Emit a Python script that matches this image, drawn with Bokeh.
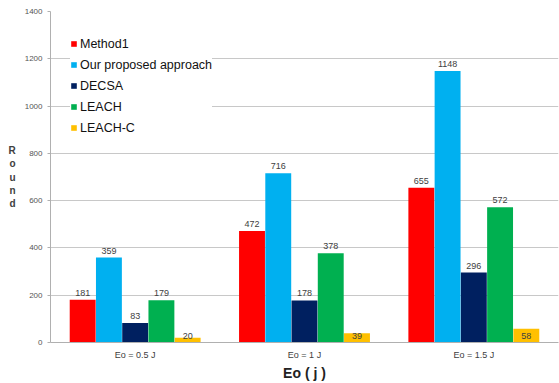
from bokeh.plotting import figure
from bokeh.models import FactorRange, FixedTicker, Legend, LegendItem, ColumnDataSource
from bokeh.transform import dodge
from bokeh.core.properties import value
from bokeh.embed import file_html
from bokeh.resources import INLINE

categories = ["Eo = 0.5 J", "Eo = 1 J", "Eo = 1.5 J"]
series_names = ["Method1", "Our proposed approach", "DECSA", "LEACH", "LEACH-C"]
method1 = [181, 472, 655]
proposed = [359, 716, 1148]
decsa = [83, 178, 296]
leach = [179, 378, 572]
leach_c = [20, 39, 58]
y_ticks = [0, 200, 400, 600, 800, 1000, 1200, 1400]

colors = ["#FF0000", "#00B0F0", "#002060", "#00B050", "#FFC000"]
series = [method1, proposed, decsa, leach, leach_c]
offsets = [-0.31, -0.155, 0.0, 0.155, 0.31]
bar_w = 0.153

FONT = "Liberation Sans"

p = figure(
    x_range=FactorRange(factors=categories, range_padding=0),
    y_range=(0, 1400),
    frame_width=508, frame_height=331,
    min_border_left=50, min_border_right=1,
    min_border_top=11, min_border_bottom=41,
    output_backend="svg", toolbar_location=None,
    background_fill_color="white", border_fill_color="white",
)
p.outline_line_color = None

src = ColumnDataSource(dict(cat=categories, m1=method1, pr=proposed,
                            de=decsa, le=leach, lc=leach_c))
keys = ["m1", "pr", "de", "le", "lc"]

renderers = []
for key, col, off, vals in zip(keys, colors, offsets, series):
    r = p.vbar(x=dodge("cat", off, range=p.x_range), top=key, width=bar_w,
               source=src, fill_color=col, line_color=None)
    renderers.append(r)
    lsrc = ColumnDataSource(dict(cat=categories, v=vals, t=[str(v) for v in vals],
                                 base=[0] * len(vals)))
    # the smallest series keeps its labels just above the axis
    ycol = "base" if key == "lc" else "v"
    p.text(x=dodge("cat", off, range=p.x_range), y=ycol, text="t", source=lsrc,
           text_align="center", text_baseline="bottom", y_offset=-4,
           text_font=value(FONT), text_font_size="9px", text_color="#404040")

# axes
p.yaxis.ticker = FixedTicker(ticks=y_ticks)
p.yaxis.minor_tick_line_color = None
p.yaxis.major_tick_in = 0
p.yaxis.major_tick_out = 3
p.yaxis.major_tick_line_color = "#b0b0b0"
p.yaxis.axis_line_color = "#b0b0b0"
p.yaxis.major_label_text_font = FONT
p.yaxis.major_label_text_font_size = "8px"
p.yaxis.major_label_text_color = "#555555"
p.yaxis.major_label_standoff = 5
p.yaxis.axis_label = "R\no\nu\nn\nd"
p.yaxis.axis_label_orientation = "horizontal"
p.yaxis.axis_label_text_font = FONT
p.yaxis.axis_label_text_font_size = "10px"
p.yaxis.axis_label_text_font_style = "bold"
p.yaxis.axis_label_text_color = "#404040"
p.yaxis.axis_label_standoff = 6

p.xaxis.major_tick_line_color = None
p.xaxis.major_tick_out = 0
p.xaxis.major_tick_in = 0
p.xaxis.axis_line_color = "#b0b0b0"
p.xaxis.major_label_text_font = FONT
p.xaxis.major_label_text_font_size = "9px"
p.xaxis.major_label_text_color = "#404040"
p.xaxis.major_label_standoff = 7
p.xaxis.axis_label = "Eo ( j )"
p.xaxis.axis_label_text_font = FONT
p.xaxis.axis_label_text_font_size = "14px"
p.xaxis.axis_label_text_font_style = "bold"
p.xaxis.axis_label_text_color = "#222222"
p.xaxis.axis_label_standoff = 2

p.xgrid.grid_line_color = None
p.ygrid.grid_line_color = "#c8c8c8"
p.ygrid.grid_line_width = 1

legend = Legend(
    items=[LegendItem(label=n, renderers=[r]) for n, r in zip(series_names, renderers)],
    location=(20, 204),
    label_text_font=FONT, label_text_font_size="12.5px", label_text_color="#111111",
    glyph_width=7, glyph_height=7, label_standoff=3, label_height=21,
    spacing=0, padding=8, margin=0,
    background_fill_color="white", background_fill_alpha=1.0,
    border_line_color=None,
)
p.add_layout(legend)

open("out.html", "w").write(file_html(p, INLINE))
